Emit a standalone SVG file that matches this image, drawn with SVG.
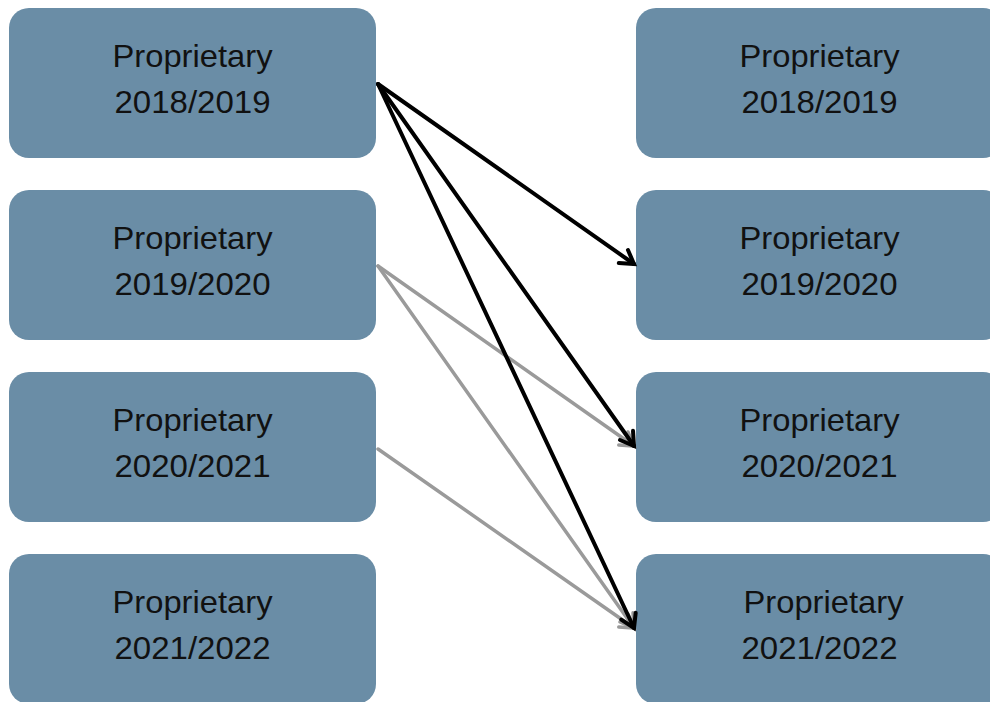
<svg xmlns="http://www.w3.org/2000/svg" width="990" height="702" viewBox="0 0 990 702">
  <defs>
    <style>
      .box { fill: #6a8da6; }
      .lbl { font-family: "Liberation Sans", Arial, sans-serif; font-size: 32px; fill: #111; text-anchor: middle; }
      .dark { stroke: #000; stroke-width: 4; fill: none; stroke-linecap: round; }
      .light { stroke: #9a9a9a; stroke-width: 3.5; fill: none; stroke-linecap: round; }
    </style>
    <marker id="headDark" markerUnits="userSpaceOnUse" viewBox="-16 -12 20 24" refX="0" refY="0" markerWidth="20" markerHeight="24" orient="auto" overflow="visible">
      <path d="M -13 -8 L 0 0 L -13 8" fill="none" stroke="#000" stroke-width="4" stroke-linecap="round" stroke-linejoin="miter"/>
    </marker>
    <marker id="headLight" markerUnits="userSpaceOnUse" viewBox="-16 -12 20 24" refX="0" refY="0" markerWidth="20" markerHeight="24" orient="auto" overflow="visible">
      <path d="M -13 -8 L 0 0 L -13 8" fill="none" stroke="#9a9a9a" stroke-width="3.5" stroke-linecap="round" stroke-linejoin="miter"/>
    </marker>
  </defs>

  <rect width="990" height="702" fill="#fff"/>

  <!-- left column -->
  <g id="left-2018">
    <rect class="box" x="9" y="8" width="367" height="150" rx="20"/>
    <text class="lbl" x="192.5" y="67" textLength="160" lengthAdjust="spacingAndGlyphs">Proprietary</text>
    <text class="lbl" x="192.5" y="113" textLength="156" lengthAdjust="spacingAndGlyphs">2018/2019</text>
  </g>
  <g id="left-2019">
    <rect class="box" x="9" y="190" width="367" height="150" rx="20"/>
    <text class="lbl" x="192.5" y="249" textLength="160" lengthAdjust="spacingAndGlyphs">Proprietary</text>
    <text class="lbl" x="192.5" y="295" textLength="156" lengthAdjust="spacingAndGlyphs">2019/2020</text>
  </g>
  <g id="left-2020">
    <rect class="box" x="9" y="372" width="367" height="150" rx="20"/>
    <text class="lbl" x="192.5" y="431" textLength="160" lengthAdjust="spacingAndGlyphs">Proprietary</text>
    <text class="lbl" x="192.5" y="477" textLength="156" lengthAdjust="spacingAndGlyphs">2020/2021</text>
  </g>
  <g id="left-2021">
    <rect class="box" x="9" y="554" width="367" height="150" rx="20"/>
    <text class="lbl" x="192.5" y="613" textLength="160" lengthAdjust="spacingAndGlyphs">Proprietary</text>
    <text class="lbl" x="192.5" y="659" textLength="156" lengthAdjust="spacingAndGlyphs">2021/2022</text>
  </g>

  <!-- right column -->
  <g id="right-2018">
    <rect class="box" x="636" y="8" width="367" height="150" rx="20"/>
    <text class="lbl" x="819.5" y="67" textLength="160" lengthAdjust="spacingAndGlyphs">Proprietary</text>
    <text class="lbl" x="819.5" y="113" textLength="156" lengthAdjust="spacingAndGlyphs">2018/2019</text>
  </g>
  <g id="right-2019">
    <rect class="box" x="636" y="190" width="367" height="150" rx="20"/>
    <text class="lbl" x="819.5" y="249" textLength="160" lengthAdjust="spacingAndGlyphs">Proprietary</text>
    <text class="lbl" x="819.5" y="295" textLength="156" lengthAdjust="spacingAndGlyphs">2019/2020</text>
  </g>
  <g id="right-2020">
    <rect class="box" x="636" y="372" width="367" height="150" rx="20"/>
    <text class="lbl" x="819.5" y="431" textLength="160" lengthAdjust="spacingAndGlyphs">Proprietary</text>
    <text class="lbl" x="819.5" y="477" textLength="156" lengthAdjust="spacingAndGlyphs">2020/2021</text>
  </g>
  <g id="right-2021">
    <rect class="box" x="636" y="554" width="367" height="150" rx="20"/>
    <text class="lbl" x="823.5" y="613" textLength="160" lengthAdjust="spacingAndGlyphs">Proprietary</text>
    <text class="lbl" x="819.5" y="659" textLength="156" lengthAdjust="spacingAndGlyphs">2021/2022</text>
  </g>

  <!-- connectors -->
  <g id="connectors">
    <line class="light" x1="378" y1="266" x2="634" y2="446" marker-end="url(#headLight)"/>
    <line class="light" x1="378" y1="266" x2="634" y2="628" marker-end="url(#headLight)"/>
    <line class="light" x1="378" y1="449" x2="634" y2="628" marker-end="url(#headLight)"/>
    <line class="dark" x1="378" y1="84" x2="634" y2="264" marker-end="url(#headDark)"/>
    <line class="dark" x1="378" y1="84" x2="634" y2="446" marker-end="url(#headDark)"/>
    <line class="dark" x1="378" y1="84" x2="634" y2="628" marker-end="url(#headDark)"/>
  </g>
</svg>
